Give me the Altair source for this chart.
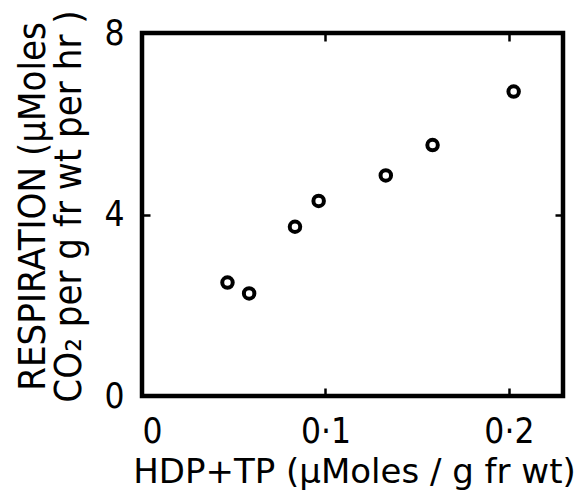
import altair as alt
import pandas as pd

hdp_tp = [0.0466, 0.0584, 0.0834, 0.0963, 0.1329, 0.1584, 0.2026]
respiration = [2.50, 2.26, 3.73, 4.30, 4.86, 5.53, 6.71]
x_ticks = [0, 0.1, 0.2]
y_ticks = [0, 4, 8]
x_title = "HDP+TP (µMoles / g fr wt)"
y_title = ["RESPIRATION (µMoles", "CO₂ per g fr wt per hr )"]

df = pd.DataFrame({"x": hdp_tp, "y": respiration})
FONT = "DejaVu Sans Condensed"

xscale = alt.Scale(domain=[0, 0.2295], nice=False, zero=True)
yscale = alt.Scale(domain=[0, 8], nice=False)

tick_common = dict(domain=False, grid=False, ticks=True, tickSize=8, tickWidth=2.5,
                   tickColor="black", offset=-8)

x_bottom = alt.Axis(orient="bottom", values=x_ticks,
                    labelExpr="datum.value == 0 ? '0' : replace(format(datum.value, '.1f'), '.', '·')",
                    labelFont=FONT, labelFontSize=35, labelColor="black", labelPadding=18,
                    title=x_title, titleFont="DejaVu Sans", titleFontSize=34, titleFontWeight="normal",
                    titleColor="black", titleX=212, titleY=94, titleAlign="center",
                    titleBaseline="alphabetic", titleAnchor="middle", **tick_common)
y_left = alt.Axis(orient="left", values=y_ticks, labelFont=FONT, labelFontSize=35,
                  labelColor="black", labelPadding=18, labelBaseline="middle",
                  title=y_title, titleFont=FONT, titleFontSize=38, titleFontWeight="normal",
                  titleColor="black", titleAngle=270, titleX=-106, titleY=173,
                  titleAlign="center", titleBaseline="alphabetic", titleLineHeight=36,
                  **tick_common)
x_top = alt.Axis(orient="top", values=x_ticks, labels=False, title=None, **tick_common)
y_right = alt.Axis(orient="right", values=y_ticks, labels=False, title=None, **tick_common)

points = alt.Chart(df).mark_point(shape="circle", filled=False, color="black",
                                  strokeWidth=4, size=110, opacity=1).encode(
    x=alt.X("x:Q", scale=xscale, axis=x_bottom),
    y=alt.Y("y:Q", scale=yscale, axis=y_left),
)
frame_axes = alt.Chart(df).mark_point(opacity=0).encode(
    x=alt.X("x:Q", scale=xscale, axis=x_top),
    y=alt.Y("y:Q", scale=yscale, axis=y_right),
)

chart = alt.layer(points, frame_axes).resolve_axis(
    x="independent", y="independent"
).properties(
    width=421, height=363,
    autosize=alt.AutoSizeParams(type="none"),
    padding={"left": 134, "top": 25, "right": 12, "bottom": 95},
    background="white",
).configure_view(stroke="black", strokeWidth=4.5)

chart.save("out.html", embed_options={"renderer": "svg", "actions": False})
